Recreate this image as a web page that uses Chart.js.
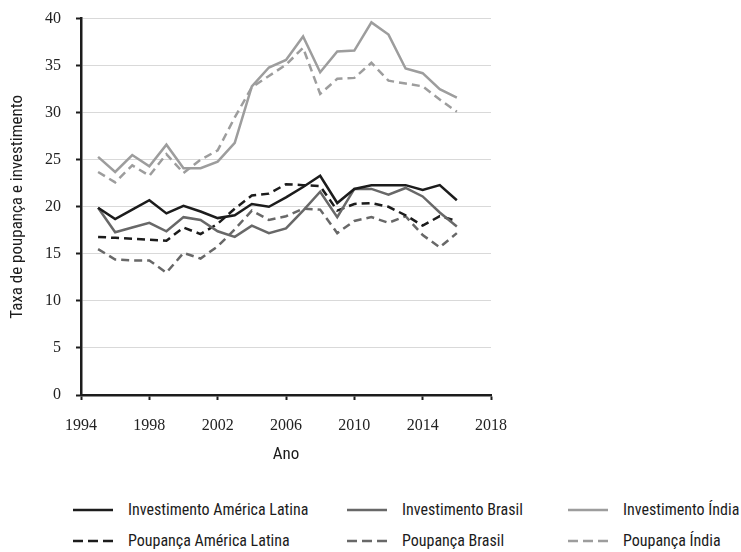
<!DOCTYPE html>
<html>
<head>
<meta charset="utf-8">
<script src="https://cdn.jsdelivr.net/npm/chart.js@4/dist/chart.umd.min.js"></script>
<style>
  body { margin: 0; background: #fff; }
  #wrap { position: relative; width: 741px; height: 552px; overflow: hidden; }
  #box { position: absolute; left: 0; top: -6px; width: 741px; height: 476px; }
  #legend {
    position: absolute; left: 73px; top: 494px;
    display: grid; grid-template-columns: 274px 221px auto; grid-auto-rows: 31px;
    font-family: 'Roboto Condensed', sans-serif; font-size: 16px; color: #1c1c1c;
  }
  .item { display: flex; align-items: center; white-space: nowrap; }
  .item svg { margin-right: 15px; }
</style>
</head>
<body>
<div id="wrap">
  <div id="box"><canvas id="chart"></canvas></div>
  <div id="legend"></div>
</div>
<script>
const anos = [1995, 1996, 1997, 1998, 1999, 2000, 2001, 2002, 2003, 2004, 2005,
              2006, 2007, 2008, 2009, 2010, 2011, 2012, 2013, 2014, 2015, 2016];

const invAmericaLatina = [19.9, 18.7, 19.7, 20.7, 19.3, 20.1, 19.5, 18.8, 19.1, 20.3, 20.0,
                          21.0, 22.1, 23.3, 20.4, 21.9, 22.3, 22.3, 22.3, 21.8, 22.3, 20.7];
const invBrasil = [19.9, 17.3, 17.8, 18.3, 17.4, 18.9, 18.6, 17.4, 16.8, 18.0, 17.2,
                   17.7, 19.6, 21.6, 18.9, 21.9, 21.9, 21.3, 22.0, 21.1, 19.4, 17.9];
const invIndia = [25.3, 23.7, 25.5, 24.3, 26.6, 24.1, 24.1, 24.8, 26.8, 32.8, 34.8,
                  35.6, 38.1, 34.3, 36.5, 36.6, 39.6, 38.3, 34.7, 34.2, 32.5, 31.6];
const poupAmericaLatina = [16.8, 16.7, 16.6, 16.5, 16.4, 17.8, 17.1, 18.2, 19.8, 21.2, 21.4,
                           22.4, 22.3, 22.2, 19.6, 20.3, 20.4, 20.0, 19.1, 18.0, 19.0, 18.5];
const poupBrasil = [15.5, 14.4, 14.3, 14.3, 13.0, 15.1, 14.5, 15.8, 17.6, 19.6, 18.6,
                    19.0, 19.8, 19.7, 17.2, 18.5, 18.9, 18.3, 19.0, 17.0, 15.7, 17.2];
const poupIndia = [23.7, 22.6, 24.4, 23.3, 25.6, 23.6, 25.0, 26.0, 29.5, 32.7, 33.9,
                   35.1, 36.9, 32.0, 33.6, 33.7, 35.3, 33.4, 33.1, 32.8, 31.4, 30.1];

const narrow = "'Roboto Condensed', sans-serif";
const serif = "'Liberation Serif', serif";

function serie(label, values, color, dashed) {
    return {
        label: label,
        data: values.map((v, i) => ({ x: anos[i], y: v })),
        borderColor: color,
        borderWidth: 2.5,
        borderDash: dashed ? [8, 5] : [],
        pointRadius: 0,
        tension: 0,
        fill: false
    };
}

const ctx = document.getElementById('chart').getContext('2d');
const chart = new Chart(ctx, {
    type: 'line',
    data: {
        datasets: [
            serie('Investimento América Latina', invAmericaLatina, '#1c1c1c', false),
            serie('Investimento Brasil', invBrasil, '#686868', false),
            serie('Investimento Índia', invIndia, '#9d9d9d', false),
            serie('Poupança América Latina', poupAmericaLatina, '#1c1c1c', true),
            serie('Poupança Brasil', poupBrasil, '#686868', true),
            serie('Poupança Índia', poupIndia, '#9d9d9d', true)
        ]
    },
    options: {
        responsive: true,
        maintainAspectRatio: false,
        animation: false,
        layout: { padding: { top: 7, right: 250, left: 0, bottom: 0 } },
        plugins: {
            legend: { display: false },
            tooltip: { enabled: false }
        },
        scales: {
            x: {
                type: 'linear',
                min: 1994,
                max: 2018,
                afterFit: (scale) => { scale.height = 75; },
                ticks: {
                    stepSize: 4,
                    callback: (v) => String(v),
                    color: '#222',
                    padding: 16,
                    font: { family: serif, size: 16 }
                },
                grid: { drawOnChartArea: false, tickLength: 5, tickColor: '#1c1c1c', tickWidth: 2 },
                border: { color: '#1c1c1c', width: 2.5 },
                title: {
                    display: true,
                    text: 'Ano',
                    color: '#1c1c1c',
                    padding: { top: 4, bottom: 5 },
                    font: { family: narrow, size: 17 }
                }
            },
            y: {
                min: 0,
                max: 40,
                afterFit: (scale) => { scale.width = 81; },
                ticks: {
                    stepSize: 5,
                    color: '#222',
                    padding: 15,
                    font: { family: serif, size: 16 }
                },
                grid: { color: '#d9d9d9', lineWidth: 1, tickLength: 5, tickColor: '#1c1c1c', tickWidth: 2 },
                border: { color: '#1c1c1c', width: 2.5 },
                title: {
                    display: true,
                    text: 'Taxa de poupança e investimento',
                    color: '#1c1c1c',
                    padding: { top: 8, bottom: 0 },
                    font: { family: narrow, size: 17 }
                }
            }
        }
    }
});

// legend in three columns, built from the datasets
const legend = document.getElementById('legend');
chart.data.datasets.forEach(ds => {
    const item = document.createElement('div');
    item.className = 'item';
    const da = ds.borderDash.length ? ' stroke-dasharray="10 5"' : '';
    item.innerHTML = '<svg width="40" height="6"><line x1="0" y1="3" x2="40" y2="3" stroke="' +
        ds.borderColor + '" stroke-width="2.5"' + da + '/></svg><span>' + ds.label + '</span>';
    legend.appendChild(item);
});
</script>
</body>
</html>
